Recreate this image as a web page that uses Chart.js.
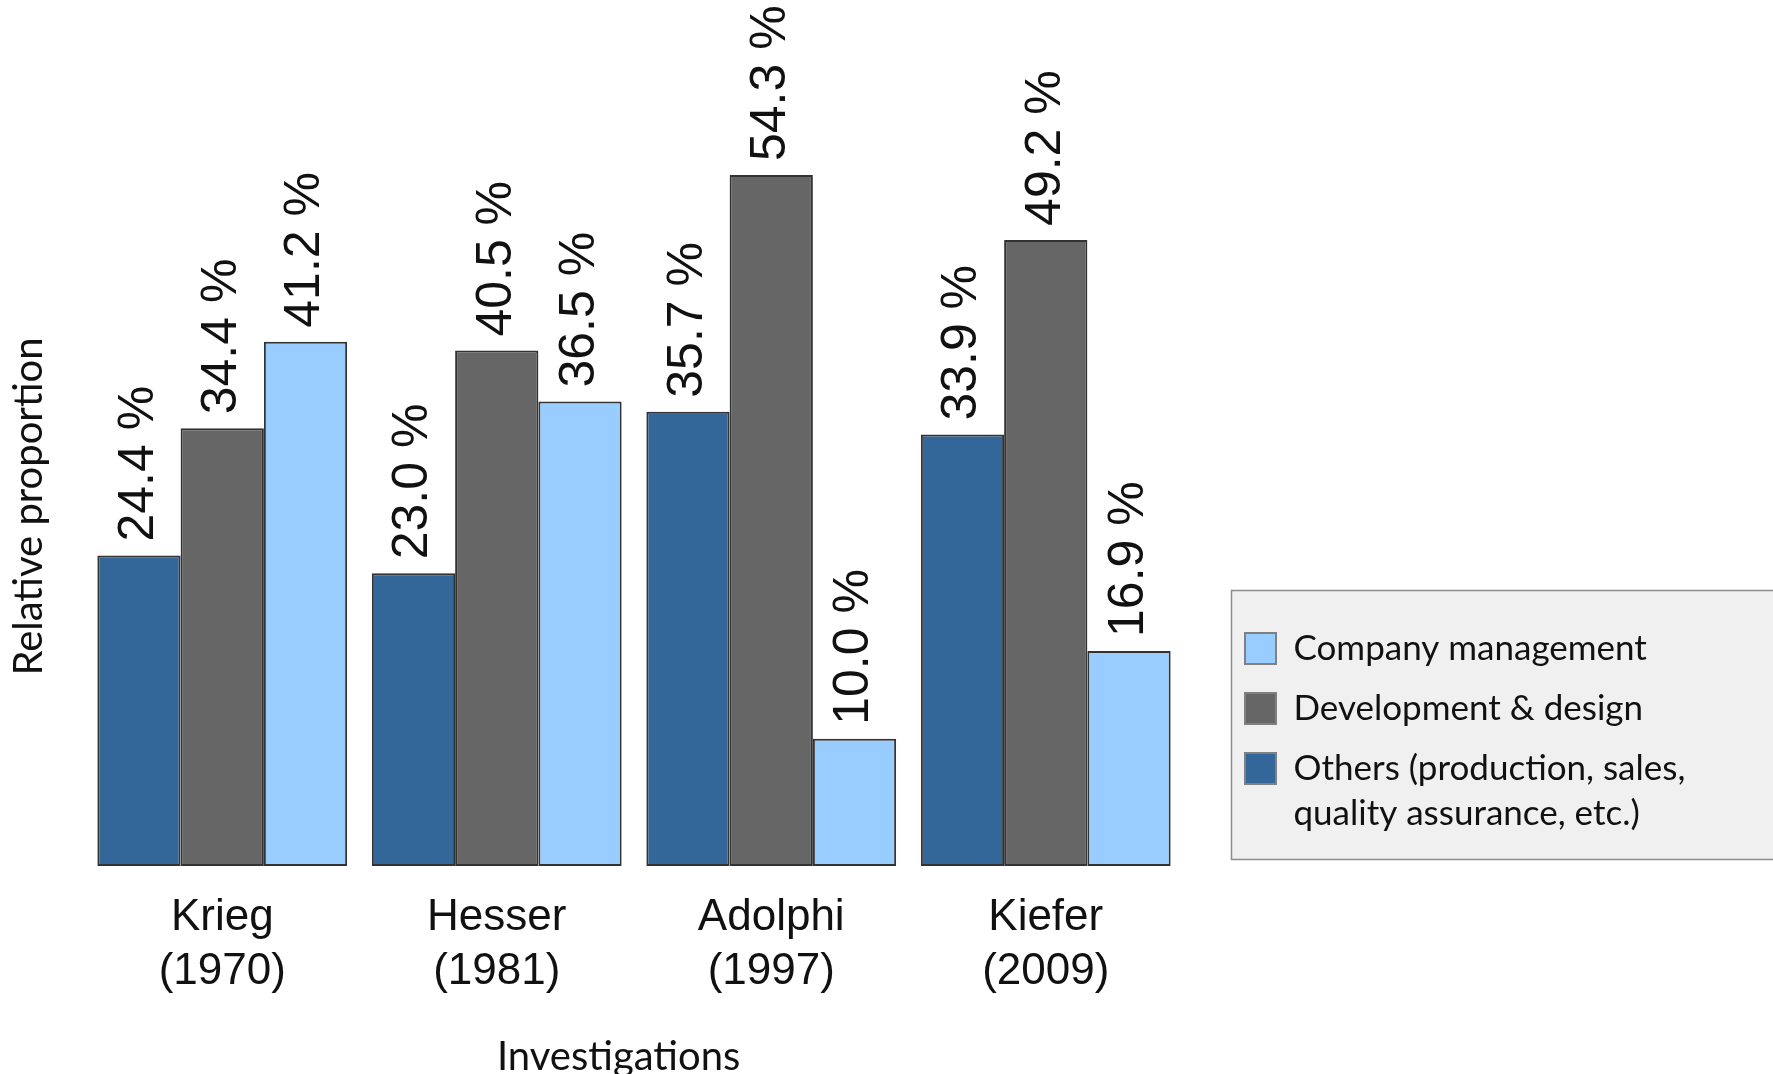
<!DOCTYPE html>
<html>
<head>
<meta charset="utf-8">
<script src="https://cdn.jsdelivr.net/npm/chart.js@4/dist/chart.umd.min.js"></script>
<style>
  html, body { margin: 0; padding: 0; background: #fff; }
  #wrap { width: 1773px; height: 1074px; position: relative; }
</style>
</head>
<body>
<div id="wrap"><canvas id="chart"></canvas></div>
<script>
// data
const studies = ['Krieg', 'Hesser', 'Adolphi', 'Kiefer'];
const years = ['(1970)', '(1981)', '(1997)', '(2009)'];
const othersShare = [24.4, 23.0, 35.7, 33.9];
const developmentShare = [34.4, 40.5, 54.3, 49.2];
const managementShare = [41.2, 36.5, 10.0, 16.9];
const seriesNames = [
    ['Others (production, sales,', 'quality assurance, etc.)'],
    ['Development & design'],
    ['Company management']
];
const seriesColors = ['#336699', '#666666', '#99ccff'];

const labelFont = '"Liberation Sans", Arial, sans-serif';
const slideFont = 'Lato, "Open Sans", sans-serif';

// percent labels written upwards above each bar
const barLabels = {
    id: 'barLabels',
    afterDatasetsDraw(chart) {
        const ctx = chart.ctx;
        ctx.save();
        ctx.font = '50px ' + labelFont;
        ctx.fillStyle = '#111';
        ctx.textAlign = 'left';
        ctx.textBaseline = 'middle';
        chart.data.datasets.forEach((ds, i) => {
            chart.getDatasetMeta(i).data.forEach((bar, j) => {
                ctx.save();
                ctx.translate(bar.x, bar.y - 14);
                ctx.rotate(-Math.PI / 2);
                ctx.fillText(ds.data[j].toFixed(1) + ' %', 0, 0);
                ctx.restore();
            });
        });
        ctx.restore();
    }
};

// move the legend into its grey box at the right
const legendBox = {
    id: 'legendBox',
    afterLayout(chart) {
        const lg = chart.legend;
        if (!lg) return;
        lg.left = 1220;
        lg.right = 1773;
        lg.top = 606;
        lg.bottom = 1074;
    },
    beforeDraw(chart) {
        const ctx = chart.ctx;
        ctx.save();
        ctx.fillStyle = '#fff';
        ctx.fillRect(0, 0, chart.width, chart.height);
        ctx.fillStyle = '#f0f0f0';
        ctx.fillRect(1231, 590, 560, 269);
        ctx.strokeStyle = '#8c8c8c';
        ctx.lineWidth = 1.5;
        ctx.strokeRect(1231.5, 590.5, 560, 269);
        ctx.restore();
    }
};

const datasets = [othersShare, developmentShare, managementShare].map((vals, i) => ({
    label: seriesNames[i].join(' '),
    data: vals,
    backgroundColor: seriesColors[i],
    borderColor: '#333333',
    borderWidth: 2,
    borderSkipped: false,
    categoryPercentage: 0.91,
    barPercentage: 1.0
}));

new Chart(document.getElementById('chart'), {
    type: 'bar',
    data: {
        labels: studies.map((s, i) => [s, years[i]]),
        datasets: datasets
    },
    options: {
        responsive: true,
        maintainAspectRatio: false,
        animation: false,
        devicePixelRatio: 1,
        layout: { padding: { left: 0, right: 590, top: 147, bottom: 0 } },
        scales: {
            x: {
                grid: { display: false },
                border: { display: false },
                ticks: {
                    color: '#111',
                    padding: 17,
                    font: { family: labelFont, size: 44, lineHeight: 1.227 }
                },
                title: {
                    display: true,
                    text: 'Investigations   ',
                    color: '#111',
                    padding: { top: 17, bottom: -7 },
                    font: { family: slideFont, size: 40, lineHeight: 1.2 }
                }
            },
            y: {
                min: 0,
                max: 56.5,
                grid: { display: false },
                border: { display: false },
                ticks: { display: false },
                title: {
                    display: true,
                    text: 'Relative proportion',
                    color: '#111',
                    padding: { top: 5, bottom: 24 },
                    font: { family: slideFont, size: 40, lineHeight: 1.2 }
                }
            }
        },
        plugins: {
            tooltip: { enabled: false },
            legend: {
                position: 'chartArea',
                align: 'start',
                reverse: true,
                labels: {
                    color: '#111',
                    boxWidth: 31,
                    boxHeight: 31,
                    padding: 25,
                    font: { family: slideFont, size: 35, lineHeight: 1.286 },
                    generateLabels(chart) {
                        const items = Chart.defaults.plugins.legend.labels.generateLabels(chart);
                        items.forEach(it => {
                            const lines = seriesNames[it.datasetIndex];
                            it.text = lines.length > 1 ? lines : lines[0];
                            it.strokeStyle = '#808080';
                            it.lineWidth = 2;
                        });
                        return items;
                    }
                }
            }
        }
    },
    plugins: [barLabels, legendBox]
});
</script>
</body>
</html>
